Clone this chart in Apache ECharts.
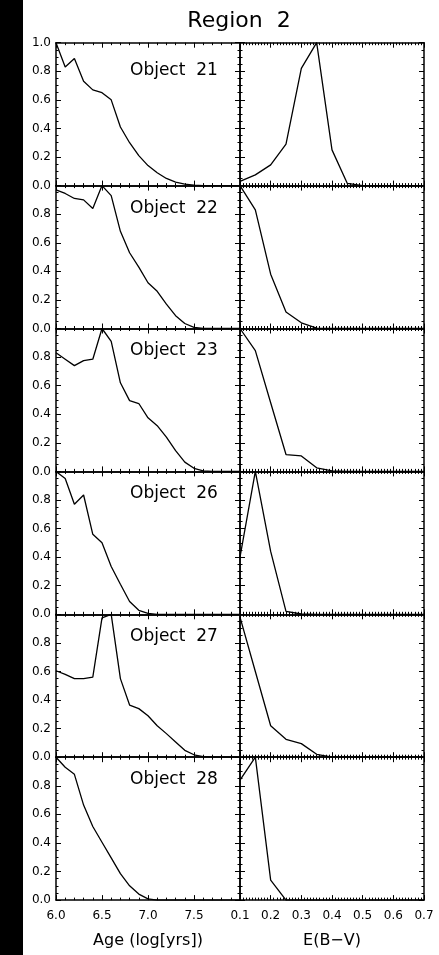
<!DOCTYPE html>
<html>
<head>
<meta charset="utf-8">
<title>Region 2</title>
<script src="https://cdn.jsdelivr.net/npm/echarts@6/dist/echarts.min.js"></script>
<style>
html, body { margin: 0; padding: 0; background: #fff; }
#chart { width: 439px; height: 955px; }
</style>
</head>
<body>
<div id="chart"></div>
<script>
// x values of the two columns
var ageX = [6.0, 6.1, 6.2, 6.3, 6.4, 6.5, 6.6, 6.7, 6.8, 6.9, 7.0, 7.1, 7.2, 7.3, 7.4, 7.5, 7.6, 7.7, 7.8, 7.9, 8.0];
var ebvX = [0.1, 0.15, 0.2, 0.25, 0.3, 0.35, 0.4, 0.45, 0.5, 0.55, 0.6, 0.65, 0.7];

var objectNames = ['Object  21', 'Object  22', 'Object  23', 'Object  26', 'Object  27', 'Object  28'];

// normalised likelihood vs age
var age21 = [1.0, 0.83, 0.89, 0.73, 0.67, 0.65, 0.60, 0.41, 0.30, 0.21, 0.14, 0.09, 0.05, 0.025, 0.01, 0.003, 0, 0, 0, 0, 0];
var age22 = [0.97, 0.945, 0.91, 0.90, 0.84, 1.0, 0.93, 0.68, 0.53, 0.43, 0.32, 0.26, 0.17, 0.09, 0.035, 0.008, 0.001, 0, 0, 0, 0];
var age23 = [0.83, 0.785, 0.74, 0.775, 0.785, 1.0, 0.91, 0.62, 0.495, 0.475, 0.375, 0.32, 0.24, 0.145, 0.065, 0.022, 0.004, 0, 0, 0, 0];
var age26 = [1.0, 0.95, 0.77, 0.835, 0.56, 0.5, 0.335, 0.21, 0.09, 0.028, 0.006, 0, 0, 0, 0, 0, 0, 0, 0, 0, 0];
var age27 = [0.605, 0.58, 0.55, 0.55, 0.56, 0.975, 1.0, 0.55, 0.365, 0.34, 0.29, 0.22, 0.165, 0.107, 0.048, 0.017, 0.004, 0, 0, 0, 0];
var age28 = [1.0, 0.93, 0.88, 0.665, 0.515, 0.405, 0.295, 0.185, 0.1, 0.042, 0.009, 0, 0, 0, 0, 0, 0, 0, 0, 0, 0];

// normalised likelihood vs E(B-V)
var ebv21 = [0.03, 0.075, 0.145, 0.29, 0.82, 1.0, 0.25, 0.015, 0, 0, 0, 0, 0];
var ebv22 = [1.0, 0.83, 0.38, 0.115, 0.04, 0.003, 0, 0, 0, 0, 0, 0, 0];
var ebv23 = [1.0, 0.845, 0.48, 0.118, 0.108, 0.025, 0.004, 0, 0, 0, 0, 0, 0];
var ebv26 = [0.40, 1.0, 0.44, 0.02, 0.002, 0, 0, 0, 0, 0, 0, 0, 0];
var ebv27 = [0.98, 0.6, 0.22, 0.125, 0.095, 0.02, 0.001, 0, 0, 0, 0, 0, 0];
var ebv28 = [0.84, 1.0, 0.14, 0, 0, 0, 0, 0, 0, 0, 0, 0, 0];

var ageRows = [age21, age22, age23, age26, age27, age28];
var ebvRows = [ebv21, ebv22, ebv23, ebv26, ebv27, ebv28];

// layout (px)
var FONT = 'DejaVu Sans';
var TOP0 = 42.7, ROW_H = 142.9;
var COL_LEFT = [56, 240], COL_W = 184;

function pairs(xs, ys) {
    return xs.map(function (x, i) { return [x, ys[i]]; });
}

function frameAxis(extra) {
    var a = {
        axisLine: { show: true, onZero: false, lineStyle: { color: '#000', width: 1.5 } },
        axisTick: { show: true, inside: true, length: 5, lineStyle: { color: '#000', width: 1 } },
        minorTick: { show: true, length: 2.5, lineStyle: { color: '#000', width: 1 } },
        splitLine: { show: false },
        minorSplitLine: { show: false },
        axisLabel: { show: false }
    };
    for (var k in extra) a[k] = extra[k];
    return a;
}

var grids = [], xAxes = [], yAxes = [], series = [], graphics = [];

for (var r = 0; r < 6; r++) {
    var rowTop = TOP0 + r * ROW_H;
    for (var c = 0; c < 2; c++) {
        var g = r * 2 + c;
        grids.push({ left: COL_LEFT[c], top: rowTop, width: COL_W, height: ROW_H });

        var xr = c === 0
            ? { min: 6, max: 8, interval: 0.5 }
            : { min: 0.1, max: 0.7, interval: 0.1 };
        var minorX = c === 0 ? 5 : 10;
        var last = r === 5;

        // bottom x axis
        var bottomX = frameAxis({
            gridIndex: g, position: 'bottom',
            type: 'value', min: xr.min, max: xr.max, interval: xr.interval
        });
        bottomX.minorTick.splitNumber = minorX;
        if (last) {
            bottomX.axisLabel = {
                show: true, color: '#000', fontFamily: FONT, fontSize: 12, margin: 10,
                formatter: function (v) { return v === 8 ? '' : v.toFixed(1); }
            };
            bottomX.name = c === 0 ? 'Age (log[yrs])' : 'E(B\u2212V)';
            bottomX.nameLocation = 'middle';
            bottomX.nameGap = 33;
            bottomX.nameTextStyle = { color: '#000', fontFamily: FONT, fontSize: 16 };
        }
        xAxes.push(bottomX);

        // top x axis (ticks only)
        var topX = frameAxis({
            gridIndex: g, position: 'top',
            type: 'value', min: xr.min, max: xr.max, interval: xr.interval
        });
        topX.minorTick.splitNumber = minorX;
        xAxes.push(topX);

        // left y axis
        var leftY = frameAxis({ gridIndex: g, position: 'left', type: 'value', min: 0, max: 1, interval: 0.2 });
        leftY.minorTick.splitNumber = 4;
        if (c === 0) {
            leftY.axisLabel = {
                show: true, color: '#000', fontFamily: FONT, fontSize: 12, margin: 5,
                formatter: (function (row) {
                    return function (v) { return (v === 1 && row > 0) ? '' : v.toFixed(1); };
                })(r)
            };
        }
        yAxes.push(leftY);

        // right y axis (ticks only)
        var rightY = frameAxis({ gridIndex: g, position: 'right', type: 'value', min: 0, max: 1, interval: 0.2 });
        rightY.minorTick.splitNumber = 4;
        yAxes.push(rightY);

        series.push({
            type: 'line',
            xAxisIndex: 2 * g,
            yAxisIndex: 2 * g,
            data: c === 0 ? pairs(ageX, ageRows[r]) : pairs(ebvX, ebvRows[r]),
            showSymbol: false,
            symbol: 'none',
            lineStyle: { color: '#000', width: 1.3 },
            z: 1
        });
    }

    graphics.push({
        type: 'text', left: 130, top: rowTop + (r === 0 ? 19 : 14),
        style: { text: objectNames[r], fill: '#000', font: '17px "' + FONT + '"' }
    });
}

// black strip on the left edge
graphics.push({ type: 'rect', shape: { x: 0, y: 0, width: 23, height: 955 }, style: { fill: '#000' } });
graphics.push({
    type: 'text', x: 239, y: 21,
    style: { text: 'Region  2', fill: '#000', font: '22px "' + FONT + '"', textAlign: 'center', textVerticalAlign: 'middle' }
});

var myChart = echarts.init(document.getElementById('chart'));
myChart.setOption({
    animation: false,
    backgroundColor: '#fff',
    grid: grids,
    xAxis: xAxes,
    yAxis: yAxes,
    series: series,
    graphic: graphics
});
</script>
</body>
</html>
